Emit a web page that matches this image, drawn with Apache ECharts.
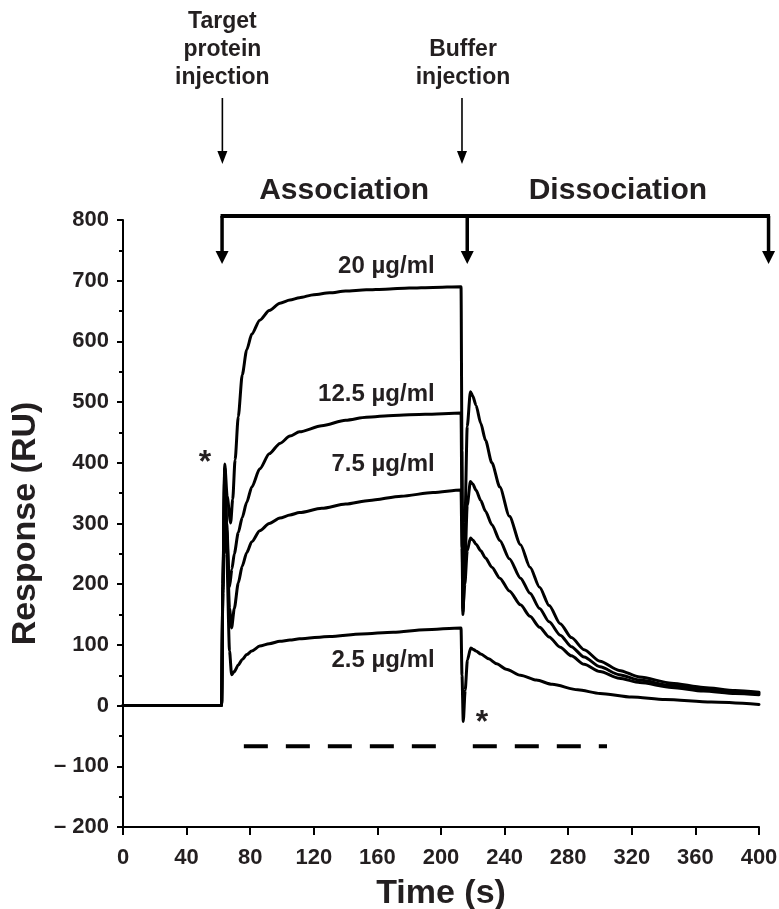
<!DOCTYPE html>
<html>
<head>
<meta charset="utf-8">
<title>SPR sensorgram</title>
<script src="https://cdn.jsdelivr.net/npm/echarts@6/dist/echarts.min.js"></script>
<style>
  html, body { margin: 0; padding: 0; background: #ffffff; }
  #chart { width: 779px; height: 909px; }
</style>
</head>
<body>
<div id="chart"></div>
<script>
// Sensorgram: response (RU) against time (s) for four target-protein concentrations.
const concentrations = ['20 µg/ml', '12.5 µg/ml', '7.5 µg/ml', '2.5 µg/ml'];

const time20 = [0, 62, 62.8, 64, 65.5, 67.7, 69, 70.5, 72.5, 75, 77.8, 81, 86, 92, 98.7, 105, 111, 120, 130, 140,
  153, 165, 180, 195, 212.6, 213.2, 213.8, 215, 216.5, 218.5, 220, 222, 225, 228, 232, 237, 243, 250, 256, 262,
  268, 275, 282, 290, 300, 312, 325, 345, 365, 385, 400];
const resp20 = [0, 0, 200, 398, 345, 301, 340, 405, 476, 545, 586, 612, 635, 651, 663, 668, 672, 677, 680, 683,
  685, 686, 688, 689, 690, 420, 150, 300, 460, 517, 510, 495, 465, 437, 400, 360, 312, 265, 228, 195,
  165, 135, 112, 92, 73, 58, 47, 37, 30, 25, 22];

const time125 = [0, 62, 62.8, 64, 65.2, 67, 68.5, 70, 72.5, 75, 77.8, 81, 86, 92, 98.7, 105, 111, 125, 140, 153,
  170, 190, 212.6, 213.2, 213.8, 215, 216.5, 218.5, 220, 222, 225, 228, 232, 237, 243, 250, 256, 262, 268, 275,
  282, 290, 300, 312, 325, 345, 365, 385, 400];
const resp125 = [0, 0, 195, 392, 300, 196, 225, 250, 285, 310, 335, 360, 390, 415, 432, 444, 451, 461, 470, 475,
  478, 480, 482, 320, 155, 230, 330, 369, 365, 355, 338, 320, 298, 272, 242, 210, 185, 160, 138, 116,
  97, 80, 64, 51, 42, 33, 27, 22, 20];

const time75 = [0, 62, 62.8, 64, 65.2, 67, 68.3, 70, 72.5, 75, 77.8, 81, 86, 92, 98.7, 105, 111, 125, 140, 155,
  175, 195, 212.6, 213.2, 213.8, 215, 216.5, 218.5, 220, 222, 225, 228, 232, 237, 243, 250, 256, 262, 268, 275,
  282, 290, 300, 312, 325, 345, 365, 385, 400];
const resp75 = [0, 0, 190, 388, 290, 160, 128, 160, 202, 230, 252, 270, 288, 300, 309, 314, 318, 325, 332, 338,
  345, 351, 355, 260, 160, 200, 255, 276, 273, 266, 255, 243, 228, 210, 189, 166, 147, 129, 113, 96,
  82, 68, 56, 45, 38, 30, 24, 20, 18];

const time25 = [0, 62, 62.8, 64, 65.2, 67, 68.3, 70, 72.5, 75, 77.8, 81, 86, 92, 98.7, 105, 111, 130, 150, 170,
  190, 212.6, 213.2, 214, 215.2, 216.6, 218.7, 220, 222, 225, 230, 235, 241, 250, 260, 270, 286, 300, 320, 341,
  370, 400];
const resp25 = [0, 0, 185, 380, 250, 90, 51, 56, 67, 76, 84, 90, 98, 102, 106, 108, 110, 114, 118, 121,
  125, 128, 50, -26, 25, 75, 95, 93, 90, 85, 77, 69, 60, 50, 42, 35, 26, 20, 14, 10,
  6, 2];

// Flow period bar drawn under the curves (two dashed runs).
const flowBarTimes = [[76, 197], [220, 304.4]];
const flowBarLevel = -67;

// Where each concentration label sits (right edge), in [time, response].
const labelAnchors = [[196, 724], [196, 513], [196, 397], [196, 74]];
// Injection-artifact markers, in [time, response].
const artifactMarks = [[51.5, 412], [225.8, -16]];

// Injection events and phase boundaries (s).
const injectionTime = 62.5;
const bufferTime = 213.2;
const phaseBounds = [62.3, 216.5, 406];

const FONT = '"Liberation Sans", Arial, Helvetica, sans-serif';
const INK = '#231f20';

const zip = (ts, vs) => ts.map((t, i) => [t, vs[i]]);
const curveData = [zip(time20, resp20), zip(time125, resp125), zip(time75, resp75), zip(time25, resp25)];

const curveSeries = curveData.map((d, i) => ({
  name: concentrations[i],
  type: 'line',
  data: d,
  showSymbol: false,
  smooth: 0.25,
  smoothMonotone: 'x',
  lineStyle: { color: '#000', width: 3, join: 'round', cap: 'round' },
  z: 3
}));

const barSeries = flowBarTimes.map(([a, b]) => ({
  type: 'line',
  data: [[a, flowBarLevel], [b, flowBarLevel]],
  showSymbol: false,
  lineStyle: { color: '#000', width: 4, type: [24, 18], cap: 'butt' },
  z: 2
}));

const chart = echarts.init(document.getElementById('chart'));
chart.setOption({
  animation: false,
  backgroundColor: '#ffffff',
  grid: { left: 123, right: 20, top: 220, bottom: 82, containLabel: false, outerBoundsMode: 'none' },
  xAxis: {
    type: 'value', min: 0, max: 400, interval: 40,
    name: 'Time (s)', nameLocation: 'middle', nameGap: 50,
    nameTextStyle: { fontFamily: FONT, fontWeight: 'bold', fontSize: 34, color: INK },
    axisLine: { show: true, onZero: false, lineStyle: { color: '#000', width: 2 } },
    axisTick: { show: true, length: 8, lineStyle: { color: '#000', width: 2 } },
    axisLabel: { fontFamily: FONT, fontWeight: 'bold', fontSize: 22, color: INK, margin: 20 },
    splitLine: { show: false }
  },
  yAxis: {
    type: 'value', min: -200, max: 800, interval: 100,
    name: 'Response (RU)', nameLocation: 'middle', nameGap: 78, nameRotate: 90,
    nameTextStyle: { fontFamily: FONT, fontWeight: 'bold', fontSize: 34, color: INK },
    axisLine: { show: true, onZero: false, lineStyle: { color: '#000', width: 2 } },
    axisTick: { show: true, length: 6, lineStyle: { color: '#000', width: 2 } },
    minorTick: { show: true, splitNumber: 2, length: 4, lineStyle: { color: '#000', width: 2 } },
    axisLabel: {
      fontFamily: FONT, fontWeight: 'bold', fontSize: 22, color: INK, margin: 14,
      formatter: v => (v < 0 ? '\u2013 ' + Math.abs(v) : String(v))
    },
    splitLine: { show: false }
  },
  series: curveSeries.concat(barSeries)
});

const toPx = (t, v) => chart.convertToPixel({ gridIndex: 0 }, [t, v]);
const xAt = t => toPx(t, 0)[0];
const gridTop = toPx(0, 800)[1];

function arrowDown(x, yTop, yTip, lineWidth, headW, headL) {
  return [
    { type: 'line', shape: { x1: x, y1: yTop, x2: x, y2: yTip - headL + 1 },
      style: { stroke: '#000', lineWidth: lineWidth } },
    { type: 'polygon', shape: { points: [[x - headW / 2, yTip - headL], [x + headW / 2, yTip - headL], [x, yTip]] },
      style: { fill: '#000' } }
  ];
}

function textEl(text, x, y, size, align, lineHeight) {
  return {
    type: 'text',
    style: {
      text: text, x: x, y: y, align: align || 'center', verticalAlign: 'middle',
      fontFamily: FONT, fontWeight: 'bold', fontSize: size, lineHeight: lineHeight || size * 1.2,
      fill: INK
    }
  };
}

const els = [];

// Injection call-outs above the plot
els.push(textEl('Target\nprotein\ninjection', xAt(injectionTime), 50, 23, 'center', 28));
els.push(textEl('Buffer\ninjection', xAt(bufferTime) + 1, 64, 23, 'center', 28));
els.push(...arrowDown(xAt(injectionTime), 98, 164, 1.6, 10, 13));
els.push(...arrowDown(xAt(bufferTime), 98, 164, 1.6, 10, 13));

// Phase bracket
const bracketY = gridTop - 4;
const [pA, pB, pC] = phaseBounds.map(xAt);
els.push({ type: 'line', shape: { x1: pA - 1.5, y1: bracketY, x2: pC + 1.5, y2: bracketY },
  style: { stroke: '#000', lineWidth: 4 } });
[pA, pB, pC].forEach(x => els.push(...arrowDown(x, bracketY, gridTop + 44, 3.5, 13, 13)));
els.push(textEl('Association', (pA + pB) / 2 - 0.5, 191, 30));
els.push(textEl('Dissociation', (pB + pC) / 2, 191, 30));

// Concentration labels
labelAnchors.forEach(([t, v], i) => {
  const [x, y] = toPx(t, v);
  els.push(textEl(concentrations[i], x, y, 24, 'right'));
});

// Artifact asterisks
artifactMarks.forEach(([t, v]) => {
  const [x, y] = toPx(t, v);
  els.push(textEl('*', x, y + 8, 32));
});

chart.setOption({ graphic: { elements: els } });
</script>
</body>
</html>
